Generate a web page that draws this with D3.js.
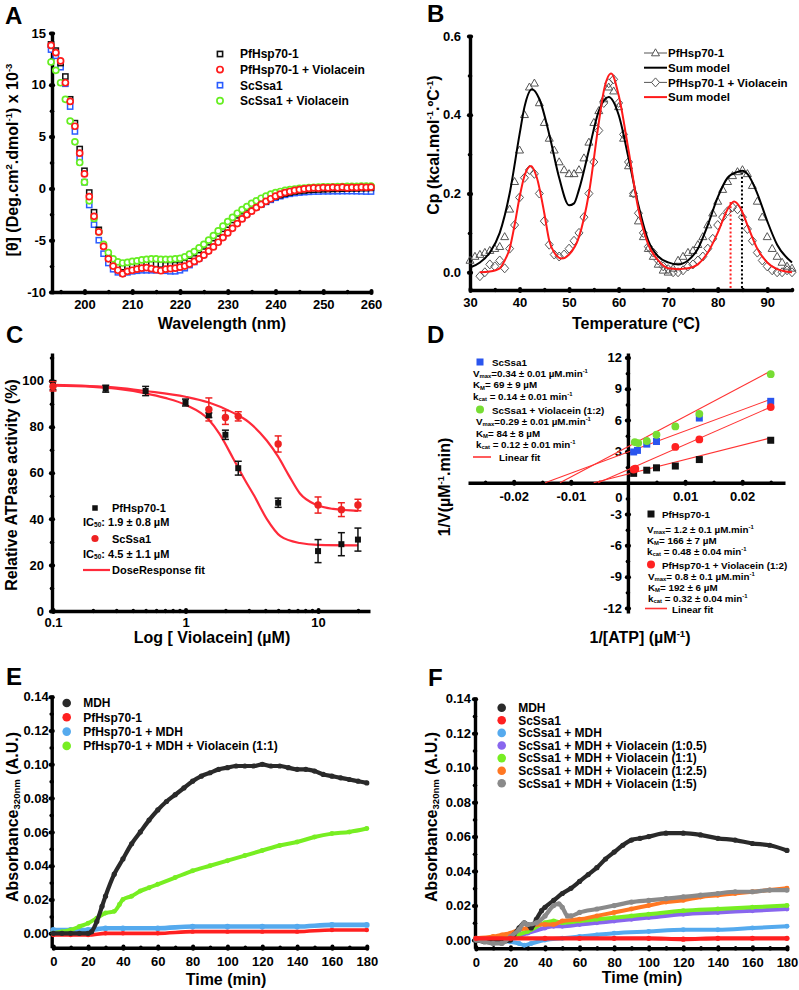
<!DOCTYPE html>
<html>
<head>
<meta charset="utf-8">
<script src="https://cdn.jsdelivr.net/npm/d3@7"></script>
<style>
	body { margin: 0; background: #fff; }
	svg { font-family: "Liberation Sans", Arial, sans-serif; font-weight: bold; }
	.axis path, .axis line { stroke: #000; }
	.axis text { font-size: 13px; font-weight: bold; fill: #000; font-family: "Liberation Sans", Arial, sans-serif; }
</style>
</head>
<body>
<svg id="fig" width="799" height="990"></svg>
<script>
// ---------- A: CD spectra ----------
const wavelength = [193,194,195,196,197,198,199,200,201,202,203,204,205,206,207,208,209,210,211,212,213,214,215,216,217,218,219,220,221,222,223,224,225,226,227,228,229,230,231,232,233,234,235,236,237,238,239,240,241,242,243,244,245,246,247,248,249,250,251,252,253,254,255,256,257,258,259,260];
const cdPf = [13.9,13.3,12.1,10.8,8.6,6.3,3.8,1.7,-0.4,-2.3,-4.0,-5.5,-6.5,-7.1,-7.4,-7.6,-7.6,-7.5,-7.4,-7.35,-7.3,-7.3,-7.3,-7.35,-7.4,-7.4,-7.4,-7.35,-7.2,-7.0,-6.75,-6.45,-6.1,-5.7,-5.3,-4.85,-4.4,-4.0,-3.55,-3.1,-2.7,-2.35,-2.05,-1.75,-1.5,-1.25,-1.0,-0.8,-0.65,-0.5,-0.4,-0.3,-0.25,-0.2,-0.15,-0.12,-0.1,-0.08,-0.06,-0.05,-0.04,-0.03,-0.02,0.0,0.0,0.02,0.03,0.05];
const cdPfViol = [13.8,13.1,12.3,10.2,8.4,6.0,3.4,1.4,-0.8,-2.7,-4.2,-5.6,-6.8,-7.5,-7.9,-8.25,-8.0,-7.9,-7.8,-7.7,-7.65,-7.75,-7.85,-7.95,-7.8,-7.75,-7.7,-7.6,-7.5,-7.3,-7.05,-6.8,-6.45,-6.05,-5.65,-5.2,-4.75,-4.3,-3.85,-3.4,-2.95,-2.55,-2.2,-1.85,-1.55,-1.25,-1.0,-0.75,-0.55,-0.4,-0.3,-0.2,-0.12,-0.05,0.0,0.05,0.02,0.08,0.05,0.1,0.06,0.12,0.05,0.1,0.08,0.12,0.1,0.12];
const cdSc = [13.4,12.8,11.7,10.1,7.9,5.5,2.9,0.6,-1.6,-3.5,-5.0,-6.3,-7.2,-7.8,-8.1,-8.2,-8.1,-8.0,-7.95,-7.9,-7.9,-7.9,-7.9,-7.9,-7.95,-8.0,-8.0,-7.9,-7.7,-7.4,-7.1,-6.75,-6.35,-5.95,-5.5,-5.05,-4.6,-4.15,-3.7,-3.25,-2.85,-2.45,-2.1,-1.8,-1.55,-1.3,-1.1,-0.9,-0.75,-0.62,-0.52,-0.45,-0.4,-0.36,-0.33,-0.3,-0.3,-0.28,-0.28,-0.27,-0.27,-0.26,-0.26,-0.26,-0.27,-0.28,-0.3,-0.3];
const cdScViol = [12.2,11.4,10.2,8.6,6.5,4.5,2.5,0.6,-1.2,-2.9,-4.2,-5.4,-6.2,-6.8,-7.1,-7.2,-7.15,-7.05,-7.0,-6.9,-6.85,-6.8,-6.8,-6.85,-6.85,-6.85,-6.8,-6.75,-6.6,-6.35,-6.1,-5.75,-5.4,-5.0,-4.55,-4.1,-3.65,-3.2,-2.8,-2.4,-2.05,-1.75,-1.45,-1.2,-0.95,-0.75,-0.55,-0.4,-0.3,-0.2,-0.12,-0.06,0.0,0.04,0.07,0.1,0.12,0.14,0.15,0.16,0.17,0.18,0.19,0.2,0.2,0.21,0.22,0.22];

// ---------- B: DSC ----------
const tempPf = [30,31,32,33,34,35,36,37,38,39,40,41,42,43,44,45,46,47,48,49,50,51,52,53,54,55,56,57,58,59,60,61,62,63,64,65,66,67,68,69,70,71,72,73,74,75,76,77,78,79,80,81,82,83,84,85,86,87,88,89,90,91,92,93,94,95];
const cpPf = [0.03,0.04,0.045,0.05,0.055,0.06,0.065,0.09,0.16,0.23,0.31,0.40,0.47,0.48,0.43,0.38,0.34,0.31,0.28,0.26,0.25,0.25,0.26,0.29,0.33,0.38,0.41,0.44,0.47,0.46,0.42,0.34,0.27,0.2,0.13,0.09,0.06,0.04,0.02,0.005,0.0,0.01,0.03,0.04,0.05,0.055,0.07,0.09,0.12,0.15,0.18,0.21,0.23,0.245,0.255,0.26,0.25,0.22,0.18,0.14,0.09,0.06,0.04,0.025,0.015,0.01];
const tempPfViol = [32,33,34,35,36,37,38,39,40,41,42,43,44,45,46,47,48,49,50,51,52,53,54,55,56,57,58,59,60,61,62,63,64,65,66,67,68,69,70,71,72,73,74,75,76,77,78,79,80,81,82,83,84,85,86,87,88,89,90,91,92,93,94,95];
const cpPfViol = [-0.01,0.0,0.02,0.015,0.03,0.01,0.06,0.12,0.19,0.24,0.26,0.25,0.2,0.13,0.07,0.045,0.04,0.045,0.06,0.08,0.1,0.14,0.2,0.28,0.36,0.43,0.48,0.49,0.43,0.35,0.28,0.2,0.15,0.1,0.065,0.05,0.03,0.015,0.008,0.0,0.0,0.005,0.015,0.02,0.03,0.04,0.06,0.085,0.12,0.14,0.155,0.165,0.16,0.14,0.11,0.08,0.05,0.03,0.015,0.005,0.0,0.0,0.005,0.0];
const fitTempPf = [30,32,34,36,38,40,41,42.5,44,46,48,50,51,52,54,56,58,60,62,64,66,68,70,72,74,76,78,80,82,84,85,86,88,90,92,95];
const fitCpPf = [0.012,0.025,0.05,0.10,0.20,0.35,0.42,0.465,0.44,0.35,0.24,0.17,0.175,0.21,0.31,0.41,0.445,0.40,0.29,0.17,0.08,0.04,0.025,0.02,0.03,0.06,0.12,0.19,0.24,0.255,0.258,0.25,0.2,0.13,0.07,0.025];
const fitTempViol = [32,34,36,37,38,39,40,41,42.3,43.5,45,46,47,48.5,50,52,54,56,57,58.5,60,62,64,66,68,70,72,74,76,78,80,82,83.3,84.5,86,88,90,92,95];
const fitCpViol = [0.0,0.002,0.01,0.03,0.06,0.12,0.19,0.245,0.27,0.24,0.15,0.08,0.05,0.035,0.045,0.09,0.2,0.38,0.46,0.505,0.45,0.31,0.16,0.07,0.03,0.01,0.008,0.01,0.02,0.05,0.1,0.16,0.18,0.165,0.12,0.06,0.025,0.008,0.0];
const tmPeaks = [{ t: 82.6, cp: 0.18, color: "#ff2020" }, { t: 84.9, cp: 0.258, color: "#000" }];

// ---------- C: ATPase inhibition ----------
const violPf = [0.1,0.25,0.5,1,1.5,2,2.5,5,10,15,20];
const actPf = [98,96.5,95.5,90.5,85,76.5,62,47,26,29,31];
const errPf = [2,1.5,2,1.5,1,2,3,2,5,5,5];
const violSc = [0.1,1.5,2,2.5,5,10,15,20];
const actSc = [97.5,87.5,84,84.5,72.5,46,44,46];
const errSc = [2,5,3,2,3.5,3.5,3,2.5];
const fitViolPf = [0.1,0.2,0.3,0.5,0.7,1,1.5,1.8,2.3,2.8,3.3,4.1,5.2,7.3,10,20];
const fitActPf = [97.8,97.3,96.5,94.5,92.5,89.5,83,77,66,57,50,40,32.5,29.5,28.7,28.5];
const fitViolSc = [0.1,0.3,0.5,1,1.5,2.3,3,4.1,5,6,7.3,9.8,13,20];
const fitActSc = [98.2,97,95.5,93,90.5,86,82,74,67,59,51,46,44.3,43.5];

// ---------- D: Lineweaver-Burk ----------
const invAtpSc = [0.001,0.00167,0.0033,0.005,0.0125,0.025];
const invVSc = [2.95,3.1,3.7,3.95,6.2,7.8];
const invAtpScViol = [0.0012,0.0018,0.0033,0.005,0.0083,0.0125,0.025];
const invVScViol = [3.9,3.8,4.0,4.6,5.4,6.6,10.4];
const invAtpPf = [0.001,0.0033,0.005,0.0083,0.0125,0.025];
const invVPf = [0.9,1.2,1.43,1.6,2.22,4.07];
const invAtpPfViol = [0.001,0.0013,0.0083,0.0125,0.025];
const invVPfViol = [1.27,1.35,3.43,4.15,7.25];
// fitted lines: x-intercept and end value at 1/[ATP] = 0.025
const lbFits = [
	{ x0: -0.0145, y1: 8.0 },
	{ x0: -0.0119, y1: 10.7 },
	{ x0: -0.006, y1: 4.3 },
	{ x0: -0.0052, y1: 7.25 },
];

// ---------- E: MDH aggregation, PfHsp70-1 ----------
const tE_mdh = [0,5,10,15,20,22,25,28,30,35,40,45,50,55,60,65,70,75,80,85,90,95,100,105,110,115,120,125,130,135,140,145,150,155,160,165,170,175,180];
const aE_mdh = [0.000,0.000,0.000,0.000,0.000,0.001,0.007,0.016,0.022,0.035,0.044,0.053,0.060,0.067,0.073,0.078,0.082,0.086,0.090,0.093,0.095,0.097,0.098,0.099,0.099,0.099,0.100,0.099,0.099,0.098,0.097,0.097,0.096,0.094,0.093,0.092,0.091,0.090,0.089];
const tE_viol = [0,5,10,15,20,25,30,35,38,40,45,50,55,60,70,80,90,100,110,120,130,140,150,160,170,180];
const aE_viol = [0.000,0.001,0.002,0.004,0.006,0.009,0.012,0.013,0.017,0.020,0.022,0.025,0.027,0.029,0.033,0.037,0.040,0.043,0.046,0.049,0.052,0.054,0.057,0.059,0.060,0.062];
const tE_flat = [0,10,20,30,40,60,80,100,120,140,160,180];
const aE_pfmdh = [0.002,0.002,0.002,0.003,0.003,0.003,0.004,0.004,0.004,0.004,0.005,0.005];
const aE_pf = [-0.001,-0.001,-0.001,0.000,0.000,0.000,0.001,0.001,0.001,0.001,0.002,0.002];

// ---------- F: MDH aggregation, ScSsa1 ----------
const tF_mdh = [0,5,10,15,20,22,25,28,30,32,35,38,40,45,50,55,60,65,70,75,80,85,90,95,100,110,120,130,140,150,160,170,180];
const aF_mdh = [0.000,-0.001,-0.001,-0.001,0.000,0.003,0.007,0.010,0.009,0.007,0.012,0.017,0.019,0.023,0.027,0.030,0.034,0.038,0.042,0.047,0.051,0.055,0.058,0.059,0.060,0.062,0.062,0.061,0.059,0.058,0.056,0.055,0.052];
const tF_v5 = [0,5,10,15,20,25,28,30,35,40,45,48,50,53,55,60,70,80,90,100,110,120,130,140,150,160,170,180];
const aF_v5 = [0.000,-0.001,-0.002,-0.002,0.002,0.006,0.010,0.009,0.010,0.014,0.020,0.021,0.019,0.014,0.014,0.016,0.018,0.020,0.022,0.023,0.024,0.025,0.026,0.027,0.028,0.028,0.029,0.029];
const tF_v25 = [0,10,15,20,25,30,35,40,45,50,60,70,80,90,100,110,120,130,140,150,160,170,180];
const aF_v25 = [0.001,0.002,0.003,0.004,0.006,0.007,0.009,0.009,0.009,0.011,0.012,0.014,0.016,0.018,0.020,0.022,0.023,0.025,0.026,0.027,0.028,0.029,0.030];
const tF_low = [0,20,30,40,45,50,60,70,80,90,100,120,140,160,180];
const aF_v1 = [0.000,0.002,0.005,0.010,0.011,0.010,0.011,0.012,0.013,0.014,0.015,0.017,0.018,0.019,0.020];
const aF_v05 = [0.000,0.001,0.004,0.007,0.008,0.008,0.009,0.010,0.011,0.012,0.013,0.015,0.016,0.017,0.018];
const tF_scmdh = [0,10,20,25,28,32,40,50,60,70,80,100,120,140,160,180];
const aF_scmdh = [0.000,0.000,-0.001,-0.002,-0.003,-0.002,0.000,0.001,0.002,0.003,0.004,0.005,0.006,0.006,0.007,0.008];
const tF_sc = [0,20,40,60,80,100,120,140,160,180];
const aF_sc = [0.001,0.001,0.001,0.001,0.001,0.001,0.0005,0.001,0.001,0.001];

const svg = d3.select("#fig");

/*
 * draws an axis whose ticks are short round blobs across the axis line
 */
function addAxis(scale, side, at, majors, minors, fmt, pad) {
	const make = side === "bottom" ? d3.axisBottom : d3.axisLeft;
	const tr = side === "bottom" ? `translate(0,${at})` : `translate(${at},0)`;
	const g = svg.append("g").attr("class", "axis").attr("transform", tr);
	const a1 = side === "bottom" ? "y1" : "x1";
	const a2 = side === "bottom" ? "y2" : "x2";
	g.append("g")
		.call(make(scale).tickValues(minors).tickFormat("").tickSize(0))
		.call(s => s.select(".domain").remove())
		.selectAll("line")
		.attr(a1, -0.6).attr(a2, 0.6)
		.attr("stroke-width", 3.4).attr("stroke-linecap", "round");
	g.append("g")
		.call(make(scale).tickValues(majors).tickFormat(fmt).tickSize(0).tickPadding(pad))
		.call(s => s.select(".domain").attr("stroke-width", 3.4))
		.selectAll("line")
		.attr(a1, -1.1).attr(a2, 1.1)
		.attr("stroke-width", 4).attr("stroke-linecap", "round");
	return g;
}

/*
 * appends plain / sup / sub parts to a text element
 */
function rich(text, parts, size) {
	let shift = 0;
	parts.forEach(p => {
		const kind = p[1];
		const target = kind === "sup" ? -0.4 * size : kind === "sub" ? 0.13 * size : 0;
		text.append("tspan")
			.attr("dy", target - shift)
			.attr("font-size", kind ? size * 0.6 : size)
			.text(p[0]);
		shift = target;
	});
	return text;
}

function label(x, y, parts, size, anchor, rotate) {
	const t = svg.append("text")
		.attr("text-anchor", anchor || "start")
		.attr("transform", rotate ? `translate(${x},${y}) rotate(-90)` : `translate(${x},${y})`);
	return rich(t, parts, size);
}

function panelLetter(x, y, s) {
	svg.append("text").attr("x", x).attr("y", y).attr("font-size", 24).text(s);
}

function square(g, x, y, s, fill, stroke, sw) {
	g.append("rect").attr("x", x - s / 2).attr("y", y - s / 2).attr("width", s).attr("height", s)
		.attr("fill", fill).attr("stroke", stroke).attr("stroke-width", sw || 0);
}

// ================= Panel A =================
{
	const x = d3.scaleLinear([193.2, 260], [52, 371]);
	const y = d3.scaleLinear([-10, 15], [292, 33]);
	addAxis(x, "bottom", 292, d3.range(200, 261, 10), d3.range(195, 260, 10), String, 8);
	addAxis(y, "left", 52, d3.range(-10, 16, 5), d3.range(-7.5, 15, 5), String, 6);

	const series = [
		{ v: cdSc, color: "#2a5cff", shape: "sq" },
		{ v: cdPf, color: "#111", shape: "sq" },
		{ v: cdScViol, color: "#66ee22", shape: "ci" },
		{ v: cdPfViol, color: "#ff1a1a", shape: "ci" },
	];
	const g = svg.append("g");
	series.forEach(s => {
		s.v.forEach((val, i) => {
			if (s.shape === "sq") square(g, x(wavelength[i]), y(val), 5.2, "#fff", s.color, 1.5);
			else g.append("circle").attr("cx", x(wavelength[i])).attr("cy", y(val)).attr("r", 3)
				.attr("fill", "#fff").attr("stroke", s.color).attr("stroke-width", 1.7);
		});
	});

	const leg = [
		{ name: "PfHsp70-1", color: "#111", shape: "sq" },
		{ name: "PfHsp70-1 + Violacein", color: "#ff1a1a", shape: "ci" },
		{ name: "ScSsa1", color: "#2a5cff", shape: "sq" },
		{ name: "ScSsa1 + Violacein", color: "#66ee22", shape: "ci" },
	];
	leg.forEach((d, i) => {
		const ly = 54 + i * 15.6;
		if (d.shape === "sq") square(svg, 220, ly, 5.2, "#fff", d.color, 1.6);
		else svg.append("circle").attr("cx", 220).attr("cy", ly).attr("r", 3.1).attr("fill", "#fff")
			.attr("stroke", d.color).attr("stroke-width", 1.7);
		svg.append("text").attr("x", 240).attr("y", ly + 4.3).attr("font-size", 12).text(d.name);
	});

	label(222, 329, [["Wavelength (nm)"]], 16, "middle");
	label(18, 160, [["[θ] (Deg.cm"], ["2", "sup"], [".dmol"], ["-1", "sup"], [") x 10"], ["-3", "sup"]], 16, "middle", true);
	panelLetter(5, 24, "A");
}

// ================= Panel B =================
{
	const x = d3.scaleLinear([30, 95], [470, 792]);
	const y = d3.scaleLinear([-0.045, 0.6], [290, 36]);
	addAxis(x, "bottom", 290, d3.range(30, 91, 10), d3.range(35, 96, 10), String, 8);
	addAxis(y, "left", 470, [0, 0.2, 0.4, 0.6], [0.1, 0.3, 0.5], d3.format(".1f"), 9);

	const line = d3.line().x(d => x(d[0])).y(d => y(d[1])).curve(d3.curveMonotoneX);
	const g = svg.append("g");

	tmPeaks.forEach(p => {
		g.append("line").attr("x1", x(p.t)).attr("x2", x(p.t)).attr("y1", 288).attr("y2", y(p.cp))
			.attr("stroke", p.color).attr("stroke-width", 2).attr("stroke-dasharray", "2,2.2");
	});

	const tri = (cx, cy) => `M${cx},${cy - 4.2}L${cx + 4},${cy + 2.8}L${cx - 4},${cy + 2.8}Z`;
	const dia = (cx, cy) => `M${cx},${cy - 4.5}L${cx + 4},${cy}L${cx},${cy + 4.5}L${cx - 4},${cy}Z`;
	cpPf.forEach((v, i) => g.append("path").attr("d", tri(x(tempPf[i]), y(v)))
		.attr("fill", "none").attr("stroke", "#555").attr("stroke-width", 1));
	cpPfViol.forEach((v, i) => g.append("path").attr("d", dia(x(tempPfViol[i]), y(v)))
		.attr("fill", "none").attr("stroke", "#555").attr("stroke-width", 1));

	g.append("path").datum(fitTempPf.map((t, i) => [t, fitCpPf[i]]))
		.attr("d", line).attr("fill", "none").attr("stroke", "#000").attr("stroke-width", 2);
	g.append("path").datum(fitTempViol.map((t, i) => [t, fitCpViol[i]]))
		.attr("d", line).attr("fill", "none").attr("stroke", "#ff1a1a").attr("stroke-width", 2);

	const leg = [
		{ name: "PfHsp70-1", color: "#555", mark: tri, w: 1 },
		{ name: "Sum model", color: "#000", mark: null, w: 2 },
		{ name: "PfHsp70-1 + Violacein", color: "#555", mark: dia, w: 1 },
		{ name: "Sum model", color: "#ff1a1a", mark: null, w: 2 },
	];
	leg.forEach((d, i) => {
		const ly = 53 + i * 14.7;
		svg.append("line").attr("x1", 644).attr("x2", 667).attr("y1", ly).attr("y2", ly)
			.attr("stroke", d.color).attr("stroke-width", d.w);
		if (d.mark) svg.append("path").attr("d", d.mark(655.5, ly)).attr("fill", "#fff")
			.attr("stroke", "#555").attr("stroke-width", 1);
		svg.append("text").attr("x", 668).attr("y", ly + 4.2).attr("font-size", 11.5).text(d.name);
	});

	label(636, 329, [["Temperature (ºC)"]], 16, "middle");
	label(439, 145, [["Cp (kcal.mol"], ["-1", "sup"], [".ºC"], ["-1", "sup"], [")"]], 16, "middle", true);
	panelLetter(427, 22, "B");
}

// ================= Panel C =================
{
	const x = d3.scaleLog([0.0983, 24.66], [52, 370]);
	const y = d3.scaleLinear([0, 112], [611, 353]);
	const minorX = [0.2, 0.3, 0.4, 0.5, 0.6, 0.7, 0.8, 0.9, 2, 3, 4, 5, 6, 7, 8, 9, 20];
	addAxis(x, "bottom", 611, [0.1, 1, 10], minorX, String, 7);
	addAxis(y, "left", 52, d3.range(0, 101, 20), d3.range(10, 112, 20), String, 8);

	const line = d3.line().x(d => x(d[0])).y(d => y(d[1])).curve(d3.curveMonotoneX);
	const g = svg.append("g");
	g.append("path").datum(fitViolPf.map((v, i) => [v, fitActPf[i]]))
		.attr("d", line).attr("fill", "none").attr("stroke", "#ff2a3a").attr("stroke-width", 2.2);
	g.append("path").datum(fitViolSc.map((v, i) => [v, fitActSc[i]]))
		.attr("d", line).attr("fill", "none").attr("stroke", "#ff2a3a").attr("stroke-width", 2.2);

	const errBars = (xs, ys, es, color) => {
		xs.forEach((c, i) => {
			const cx = x(c);
			g.append("line").attr("x1", cx).attr("x2", cx).attr("y1", y(ys[i] - es[i])).attr("y2", y(ys[i] + es[i]))
				.attr("stroke", color).attr("stroke-width", 1.5);
			[ys[i] - es[i], ys[i] + es[i]].forEach(v => g.append("line")
				.attr("x1", cx - 3.5).attr("x2", cx + 3.5).attr("y1", y(v)).attr("y2", y(v))
				.attr("stroke", color).attr("stroke-width", 1.5));
		});
	};
	errBars(violPf, actPf, errPf, "#111");
	errBars(violSc, actSc, errSc, "#ee2222");
	violPf.forEach((c, i) => square(g, x(c), y(actPf[i]), 6, "#111", "none"));
	violSc.forEach((c, i) => g.append("circle").attr("cx", x(c)).attr("cy", y(actSc[i])).attr("r", 3.7).attr("fill", "#ee2222"));

	square(svg, 95, 508, 5.5, "#111", "none");
	svg.append("text").attr("x", 112).attr("y", 512).attr("font-size", 11).text("PfHsp70-1");
	label(83, 526, [["IC"], ["50", "sub"], [": 1.9 ± 0.8 µM"]], 11);
	svg.append("circle").attr("cx", 95).attr("cy", 538.5).attr("r", 3.6).attr("fill", "#ee2222");
	svg.append("text").attr("x", 112).attr("y", 542.5).attr("font-size", 11).text("ScSsa1");
	label(83, 558, [["IC"], ["50", "sub"], [": 4.5 ± 1.1 µM"]], 11);
	svg.append("line").attr("x1", 83).attr("x2", 110).attr("y1", 570).attr("y2", 570)
		.attr("stroke", "#ff2a3a").attr("stroke-width", 2.2);
	svg.append("text").attr("x", 112).attr("y", 574).attr("font-size", 11).text("DoseResponse fit");

	label(212, 643, [["Log [ Violacein] (µM)"]], 16, "middle");
	label(17, 485, [["Relative ATPase activity  (%)"]], 16, "middle", true);
	panelLetter(6, 343, "C");
}

// ================= Panel D =================
{
	const x = d3.scaleLinear([-0.028, 0.0275], [468, 785]);
	const y = d3.scaleLinear([-12.48, 12.43], [613, 353]);
	const x0 = x(0), y0 = y(0);
	addAxis(x, "bottom", y0, [-0.02, -0.01, 0.01, 0.02], [-0.025, -0.015, -0.005, 0, 0.005, 0.015, 0.025], String, 9);
	addAxis(y, "left", x0, [-12, -9, -6, -3, 3, 6, 9, 12], [-10.5, -7.5, -4.5, -1.5, 0, 1.5, 4.5, 7.5, 10.5], String, 6);
	svg.append("text").attr("x", x0 - 9).attr("y", y0 + 19).attr("font-size", 13).attr("text-anchor", "middle").text("0");

	const g = svg.append("g");
	lbFits.forEach(f => {
		g.append("line").attr("x1", x(f.x0)).attr("y1", y(0)).attr("x2", x(0.025)).attr("y2", y(f.y1))
			.attr("stroke", "#ff3333").attr("stroke-width", 1.1);
	});
	invVSc.forEach((v, i) => square(g, x(invAtpSc[i]), y(v), 7, "#2a55ee", "none"));
	invVScViol.forEach((v, i) => g.append("circle").attr("cx", x(invAtpScViol[i])).attr("cy", y(v)).attr("r", 3.9).attr("fill", "#77dd33"));
	invVPf.forEach((v, i) => square(g, x(invAtpPf[i]), y(v), 7, "#111", "none"));
	invVPfViol.forEach((v, i) => g.append("circle").attr("cx", x(invAtpPfViol[i])).attr("cy", y(v)).attr("r", 3.9).attr("fill", "#ff2222"));

	const fs = 9.8;
	square(svg, 480, 362, 7, "#2a55ee", "none");
	svg.append("text").attr("x", 492).attr("y", 366).attr("font-size", fs).text("ScSsa1");
	label(473, 377, [["V"], ["max", "sub"], ["=0.34 ± 0.01 µM.min"], ["-1", "sup"]], fs);
	label(473, 388.3, [["K"], ["M", "sub"], ["= 69 ± 9 µM"]], fs);
	label(473, 399.6, [["k"], ["cat", "sub"], [" = 0.14 ± 0.01 min"], ["-1", "sup"]], fs);
	svg.append("circle").attr("cx", 480).attr("cy", 409.5).attr("r", 4).attr("fill", "#77dd33");
	svg.append("text").attr("x", 492).attr("y", 413.5).attr("font-size", fs).text("ScSsa1 + Violacein (1:2)");
	label(476, 425, [["V"], ["max", "sub"], ["=0.29 ± 0.01 µM.min"], ["-1", "sup"]], fs);
	label(476, 436.6, [["K"], ["M", "sub"], ["= 84 ± 8 µM"]], fs);
	label(476, 448.2, [["k"], ["cat", "sub"], [" = 0.12 ± 0.01 min"], ["-1", "sup"]], fs);
	svg.append("line").attr("x1", 473).attr("x2", 491).attr("y1", 457).attr("y2", 457)
		.attr("stroke", "#ff3333").attr("stroke-width", 1.6);
	svg.append("text").attr("x", 499).attr("y", 461).attr("font-size", fs).text("Linear fit");

	square(svg, 651, 514, 7, "#111", "none");
	svg.append("text").attr("x", 662).attr("y", 518).attr("font-size", fs).text("PfHsp70-1");
	label(647, 532.5, [["V"], ["max", "sub"], ["= 1.2 ± 0.1 µM.min"], ["-1", "sup"]], fs);
	label(647, 543.6, [["K"], ["M", "sub"], ["= 166 ± 7 µM"]], fs);
	label(647, 554.7, [["k"], ["cat", "sub"], [" = 0.48 ± 0.04 min"], ["-1", "sup"]], fs);
	svg.append("circle").attr("cx", 651).attr("cy", 564.5).attr("r", 4).attr("fill", "#ff2222");
	svg.append("text").attr("x", 662).attr("y", 568.5).attr("font-size", fs).text("PfHsp70-1 + Violacein (1:2)");
	label(648, 580, [["V"], ["max", "sub"], ["= 0.8 ± 0.1 µM.min"], ["-1", "sup"]], fs);
	label(648, 591, [["K"], ["M", "sub"], ["= 192 ± 6 µM"]], fs);
	label(648, 602, [["k"], ["cat", "sub"], [" = 0.32 ± 0.04 min"], ["-1", "sup"]], fs);
	svg.append("line").attr("x1", 645).attr("x2", 667).attr("y1", 608.5).attr("y2", 608.5)
		.attr("stroke", "#ff3333").attr("stroke-width", 1.6);
	svg.append("text").attr("x", 672).attr("y", 612.5).attr("font-size", fs).text("Linear fit");

	label(640, 643, [["1/[ATP] (µM"], ["-1", "sup"], [")"]], 16, "middle");
	label(450, 487, [["1/V(µM"], ["-1", "sup"], [".min)"]], 16, "middle", true);
	panelLetter(427, 343, "D");
}

/*
 * draws a kinetic trace as a thick line with dots at each reading
 */
function trace(g, x, y, ts, vs, color, w) {
	const pts = ts.map((t, i) => [t, vs[i]]);
	g.append("path").datum(pts)
		.attr("d", d3.line().x(d => x(d[0])).y(d => y(d[1])).curve(d3.curveMonotoneX))
		.attr("fill", "none").attr("stroke", color).attr("stroke-width", w)
		.attr("stroke-linecap", "round").attr("stroke-linejoin", "round");
	g.selectAll(null).data(pts).join("circle")
		.attr("cx", d => x(d[0])).attr("cy", d => y(d[1])).attr("r", w * 0.62).attr("fill", color);
}

function legendDots(x, y0, step, items) {
	items.forEach((d, i) => {
		const ly = y0 + i * step;
		svg.append("circle").attr("cx", x).attr("cy", ly).attr("r", 4.3).attr("fill", d.color);
		svg.append("text").attr("x", x + 16.5).attr("y", ly + 4.3).attr("font-size", 12).text(d.name);
	});
}

// ================= Panel E =================
{
	const x = d3.scaleLinear([-0.9, 180.7], [51.7, 368]);
	const y = d3.scaleLinear([-0.0085, 0.141], [947.7, 695]);
	addAxis(x, "bottom", 947.7, d3.range(0, 181, 20), d3.range(10, 180, 20), String, 9);
	addAxis(y, "left", 51.7, d3.range(0, 0.141, 0.02), d3.range(0.01, 0.14, 0.02), d3.format(".2f"), 3);

	const g = svg.append("g");
	trace(g, x, y, tE_flat, aE_pf, "#ff2020", 3.6);
	trace(g, x, y, tE_flat, aE_pfmdh, "#55aaee", 4.6);
	trace(g, x, y, tE_viol, aE_viol, "#77ee22", 4);
	trace(g, x, y, tE_mdh, aE_mdh, "#2a2a2a", 4.2);

	legendDots(66.7, 703, 14.3, [
		{ name: "MDH", color: "#2a2a2a" },
		{ name: "PfHsp70-1", color: "#ff2020" },
		{ name: "PfHsp70-1 + MDH", color: "#55aaee" },
		{ name: "PfHsp70-1 + MDH + Violacein (1:1)", color: "#77ee22" },
	]);

	label(226, 985, [["Time (min)"]], 16, "middle");
	label(18, 817, [["Absorbance"], ["320nm", "sub"], [" (A.U.)"]], 16, "middle", true);
	panelLetter(6, 685, "E");
}

// ================= Panel F =================
{
	const x = d3.scaleLinear([-0.5, 180.3], [475, 787.5]);
	const y = d3.scaleLinear([-0.0048, 0.141], [948.3, 697]);
	addAxis(x, "bottom", 948.3, d3.range(0, 181, 20), d3.range(10, 180, 20), String, 9);
	addAxis(y, "left", 475, d3.range(0, 0.141, 0.02), d3.range(0.01, 0.14, 0.02), d3.format(".2f"), 4);

	const g = svg.append("g");
	trace(g, x, y, tF_scmdh, aF_scmdh, "#55aaee", 4);
	trace(g, x, y, tF_low, aF_v05, "#8866ee", 4);
	trace(g, x, y, tF_low, aF_v1, "#77ee22", 4);
	trace(g, x, y, tF_v25, aF_v25, "#ff7722", 4);
	trace(g, x, y, tF_mdh, aF_mdh, "#2a2a2a", 4.2);
	trace(g, x, y, tF_v5, aF_v5, "#8a8a8a", 4.2);
	trace(g, x, y, tF_sc, aF_sc, "#ff2020", 4.2);

	legendDots(501.7, 707.7, 12.6, [
		{ name: "MDH", color: "#2a2a2a" },
		{ name: "ScSsa1", color: "#ff2020" },
		{ name: "ScSsa1 + MDH", color: "#55aaee" },
		{ name: "ScSsa1 + MDH + Violacein (1:0.5)", color: "#8866ee" },
		{ name: "ScSsa1 + MDH + Violacein (1:1)", color: "#77ee22" },
		{ name: "ScSsa1 + MDH + Violacein (1:2.5)", color: "#ff7722" },
		{ name: "ScSsa1 + MDH + Violacein (1:5)", color: "#8a8a8a" },
	]);

	label(642, 983, [["Time (min)"]], 16, "middle");
	label(437, 817, [["Absorbance"], ["320nm", "sub"], [" (A.U.)"]], 16, "middle", true);
	panelLetter(428, 686, "F");
}
</script>
</body>
</html>
